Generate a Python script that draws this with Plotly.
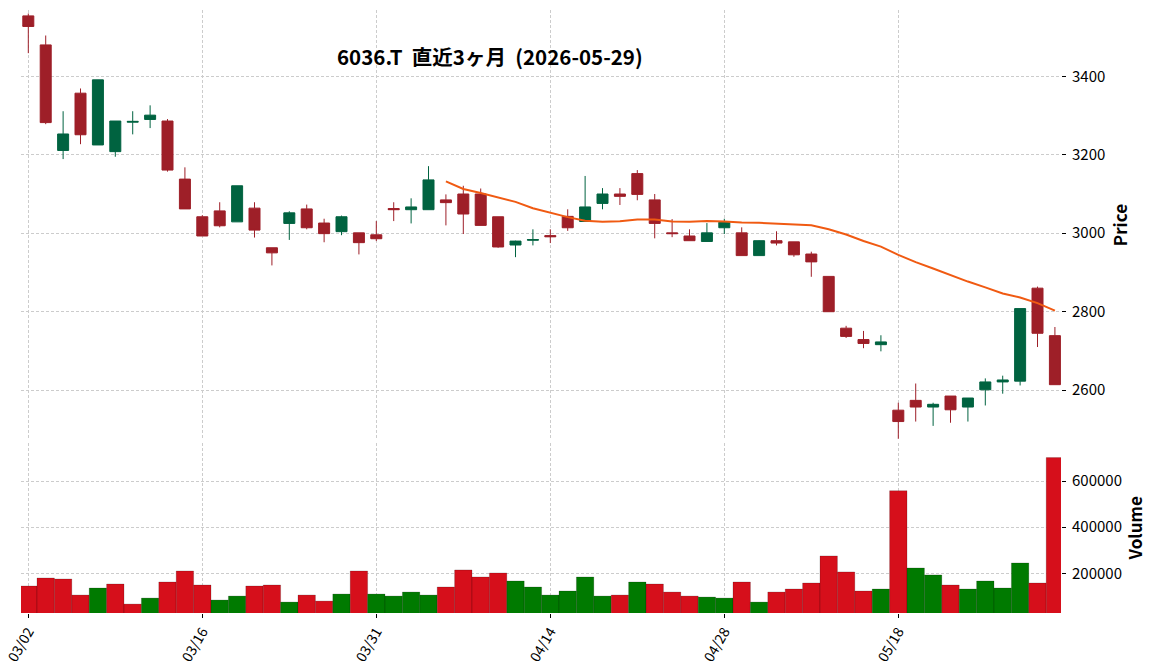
import plotly.graph_objects as go
import pandas as pd

# ---------------- data ----------------
dates = ["03/02", "03/03", "03/04", "03/05", "03/06", "03/09", "03/10", "03/11", "03/12", "03/13",
         "03/16", "03/17", "03/18", "03/19", "03/23", "03/24", "03/25", "03/26", "03/27", "03/30",
         "03/31", "04/01", "04/02", "04/03", "04/06", "04/07", "04/08", "04/09", "04/10", "04/13",
         "04/14", "04/15", "04/16", "04/17", "04/20", "04/21", "04/22", "04/23", "04/24", "04/27",
         "04/28", "04/30", "05/01", "05/07", "05/08", "05/11", "05/12", "05/13", "05/14", "05/15",
         "05/18", "05/19", "05/20", "05/21", "05/22", "05/25", "05/26", "05/27", "05/28", "05/29"]

opens = [3554, 3480, 3211, 3357, 3225, 3208, 3283, 3290, 3286, 3138,
         3042, 3057, 3029, 3064, 2963, 3025, 3062, 3026, 3004, 3001,
         2996, 3063, 3060, 3060, 3085, 3100, 3100, 3042, 2970, 2982,
         2994, 3043, 3030, 3076, 3100, 3152, 3085, 3001, 2993, 2979,
         3014, 3001, 2943, 2981, 2978, 2947, 2890, 2758, 2729, 2716,
         2549, 2574, 2557, 2585, 2557, 2601, 2621, 2623, 2860, 2739]

highs = [3560, 3504, 3311, 3369, 3391, 3286, 3311, 3326, 3291, 3168,
         3046, 3079, 3121, 3079, 2963, 3056, 3073, 3037, 3045, 3001,
         3031, 3079, 3089, 3171, 3099, 3121, 3114, 3042, 2981, 3010,
         3010, 3061, 3146, 3115, 3115, 3161, 3100, 3036, 3010, 3026,
         3037, 3015, 2982, 3005, 2978, 2953, 2890, 2764, 2751, 2740,
         2568, 2617, 2568, 2585, 2580, 2630, 2637, 2808, 2864, 2761]

lows = [3459, 3278, 3189, 3227, 3225, 3195, 3252, 3268, 3157, 3062,
        2993, 3015, 3029, 2989, 2918, 2983, 3010, 2977, 2995, 2946,
        2980, 3031, 3025, 3060, 3020, 2998, 3020, 2963, 2939, 2969,
        2975, 3006, 3030, 3061, 3072, 3084, 2987, 2990, 2981, 2979,
        2998, 2943, 2943, 2969, 2940, 2889, 2800, 2733, 2707, 2699,
        2476, 2520, 2509, 2517, 2520, 2561, 2591, 2612, 2710, 2614]

closes = [3527, 3282, 3253, 3251, 3391, 3286, 3285, 3301, 3161, 3062,
          2993, 3019, 3121, 3008, 2950, 3052, 3014, 2999, 3042, 2976,
          2986, 3060, 3067, 3136, 3078, 3049, 3020, 2965, 2980, 2984,
          2991, 3014, 3067, 3100, 3094, 3099, 3025, 2999, 2981, 3001,
          3028, 2943, 2981, 2975, 2945, 2927, 2800, 2737, 2719, 2723,
          2520, 2557, 2564, 2550, 2580, 2621, 2626, 2808, 2745, 2614]

volumes = [145000, 179700, 175400, 105800, 136200, 153600, 66700, 92700, 162300, 210100,
           149300, 84100, 101400, 144900, 149300, 75400, 105800, 79700, 110100, 210100,
           110100, 101400, 118800, 105800, 140600, 214500, 184100, 201400, 166700, 140600,
           105800, 123200, 184100, 101400, 105800, 162300, 153600, 118800, 101400, 97100,
           92700, 162300, 75400, 118800, 131900, 158000, 275400, 205800, 123200, 131900,
           558000, 223200, 192800, 149300, 131900, 166700, 136200, 244900, 158000, 701400]

tick_idx = [0, 10, 20, 30, 40, 50]
price_ticks = [2600, 2800, 3000, 3200, 3400]
volume_ticks = [200000, 400000, 600000]
MA_WINDOW = 25
title_text = "6036.T\u00a0\u00a0直近3ヶ月\u00a0\u00a0(2026-05-29)"

# ---------------- styling ----------------
UP_C = "#006340"
DN_C = "#9e1f28"
VUP = "#007a00"
VDN = "#d60f1b"
MA_C = "#f05a12"
FONT = "Noto Sans CJK JP"

n = len(dates)
x = list(range(n))
ma = pd.Series(closes).rolling(MA_WINDOW).mean()

vol_colors = []
for i in range(n):
    if i == 0:
        up = closes[0] > opens[0]
    else:
        up = closes[i] > closes[i - 1]
    vol_colors.append(VUP if up else VDN)

fig = go.Figure()
fig.add_trace(go.Candlestick(
    x=x, open=opens, high=highs, low=lows, close=closes,
    increasing=dict(line=dict(color=UP_C, width=1), fillcolor=UP_C),
    decreasing=dict(line=dict(color=DN_C, width=1), fillcolor=DN_C),
    xaxis="x", yaxis="y", showlegend=False,
))
fig.add_trace(go.Scatter(
    x=x, y=ma, mode="lines", line=dict(color=MA_C, width=2),
    xaxis="x", yaxis="y", showlegend=False,
))
fig.add_trace(go.Bar(
    x=x, y=volumes, marker=dict(color=vol_colors, line=dict(width=0.6, color="rgba(0,0,0,0.3)")),
    width=1.0, xaxis="x2", yaxis="y2", showlegend=False,
))

xr = [-0.42, 59.35]
grid = dict(showgrid=True, gridcolor="#cccccc", gridwidth=0.8, griddash="3px,2px",
            zeroline=False, showline=False, automargin=False)

fig.update_layout(
    width=1152, height=670,
    margin=dict(l=21, r=91, t=10, b=57),
    paper_bgcolor="white", plot_bgcolor="white",
    font=dict(family=FONT, size=15, color="#000"),
    boxgap=0.368, boxgroupgap=0,
    xaxis=dict(domain=[0, 1], anchor="y", range=xr, tickvals=tick_idx, showticklabels=False,
               ticks="", rangeslider=dict(visible=False), **grid),
    xaxis2=dict(domain=[0, 1], anchor="y2", range=xr, tickvals=tick_idx,
                ticktext=[dates[i] for i in tick_idx], tickangle=-60, ticks="outside",
                ticklen=4, tickcolor="#000", tickfont=dict(size=14), **grid),
    yaxis=dict(domain=[0.2869, 1], anchor="x", side="right", range=[2473, 3569],
               tickvals=price_ticks, ticks="outside", ticklen=4, tickcolor="#000",
               tickfont=dict(size=15), ticklabelstandoff=3,
               title=dict(text="<b>Price</b>", font=dict(size=17), standoff=10), **grid),
    yaxis2=dict(domain=[0, 0.2824], anchor="x2", side="right", range=[27950, 766000],
                tickvals=volume_ticks, tickformat="d", ticks="outside", ticklen=4, tickcolor="#000",
                tickfont=dict(size=15), ticklabelstandoff=3,
                title=dict(text="<b>Volume</b>", font=dict(size=17), standoff=8), **grid),
    annotations=[dict(text="<b>" + title_text + "</b>", x=0.4505, y=0.9242, xref="paper", yref="paper",
                      xanchor="center", yanchor="middle", showarrow=False,
                      font=dict(size=20.5, family=FONT, color="#000"))],
    hovermode=False,
)

fig.write_html("out.html")
